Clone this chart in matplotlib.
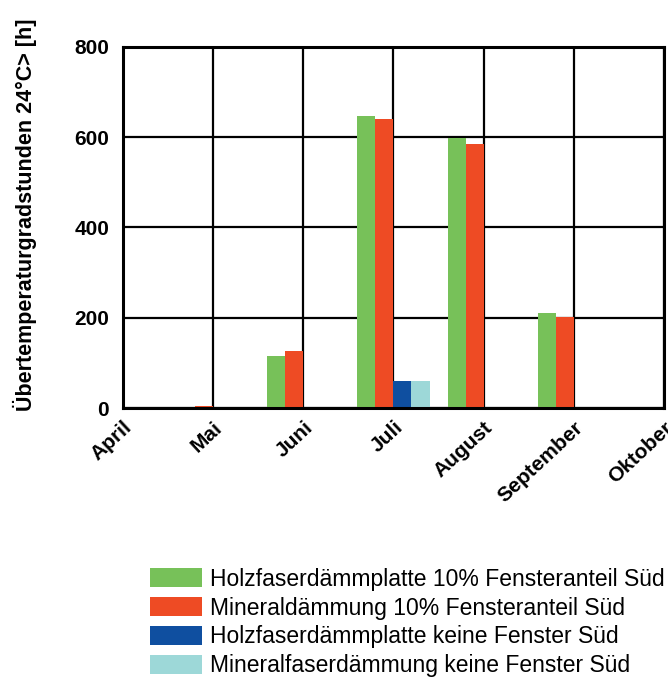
import matplotlib
matplotlib.use("Agg")
import matplotlib.pyplot as plt
import matplotlib.transforms as mtransforms
import numpy as np

plt.rcParams['font.family'] = ['Liberation Sans', 'DejaVu Sans']

# monthly overheating degree hours above 24 °C
months = ['April', 'Mai', 'Juni', 'Juli', 'August', 'September', 'Oktober']
holz_10 = [0, 0, 115, 647, 598, 210, 0]
mineral_10 = [0, 5, 127, 640, 585, 201, 0]
holz_keine = [0, 0, 0, 60, 0, 0, 0]
mineral_keine = [0, 0, 0, 60, 0, 0, 0]

labels = ['Holzfaserdämmplatte 10% Fensteranteil Süd',
          'Mineraldämmung 10% Fensteranteil Süd',
          'Holzfaserdämmplatte keine Fenster Süd',
          'Mineralfaserdämmung keine Fenster Süd']
colors = ['#77c159', '#ee4b24', '#0f4fa0', '#9dd8d8']

fig = plt.figure(figsize=(6.68, 6.78), dpi=100)
ax = fig.add_axes([0.184, 0.398, 0.810, 0.533])

x = np.arange(len(months))
w = 0.2
series = [holz_10, mineral_10, holz_keine, mineral_keine]
for i, (vals, col, lab) in enumerate(zip(series, colors, labels)):
    ax.bar(x + (i - 2) * w, vals, width=w, align='edge', color=col,
           label=lab, zorder=3)

ax.set_xlim(0, 6)
ax.set_ylim(0, 800)
ax.set_yticks([0, 200, 400, 600, 800])
ax.set_xticks(x)
ax.set_xticklabels(months, rotation=43, ha='right', va='top',
                   rotation_mode='anchor', fontweight='bold', fontsize=15)
# nudge the month labels a little to the left
shift = mtransforms.ScaledTranslation(-5 / 100, 0, fig.dpi_scale_trans)
for t in ax.get_xticklabels():
    t.set_transform(t.get_transform() + shift)
for t in ax.get_yticklabels():
    t.set_fontweight('bold')
    t.set_fontsize(15)
ax.tick_params(length=0, pad=10)
ax.tick_params(axis='x', pad=7)
ax.grid(True, color='black', linewidth=1.6, zorder=0)
ax.set_axisbelow(True)
for s in ax.spines.values():
    s.set_linewidth(2.2)
    s.set_zorder(4)

ax.set_ylabel('Übertemperaturgradstunden 24°C> [h]', fontweight='bold',
              fontsize=15.5)
ax.yaxis.set_label_coords(-0.159, 0.535)

fig.legend(loc='upper left', bbox_to_anchor=(0.2115, 0.176), frameon=False,
           fontsize=16.5, handlelength=2.25, handleheight=0.9,
           labelspacing=0.25, handletextpad=0.35, borderaxespad=0)

fig.savefig('out.png', dpi=100)
